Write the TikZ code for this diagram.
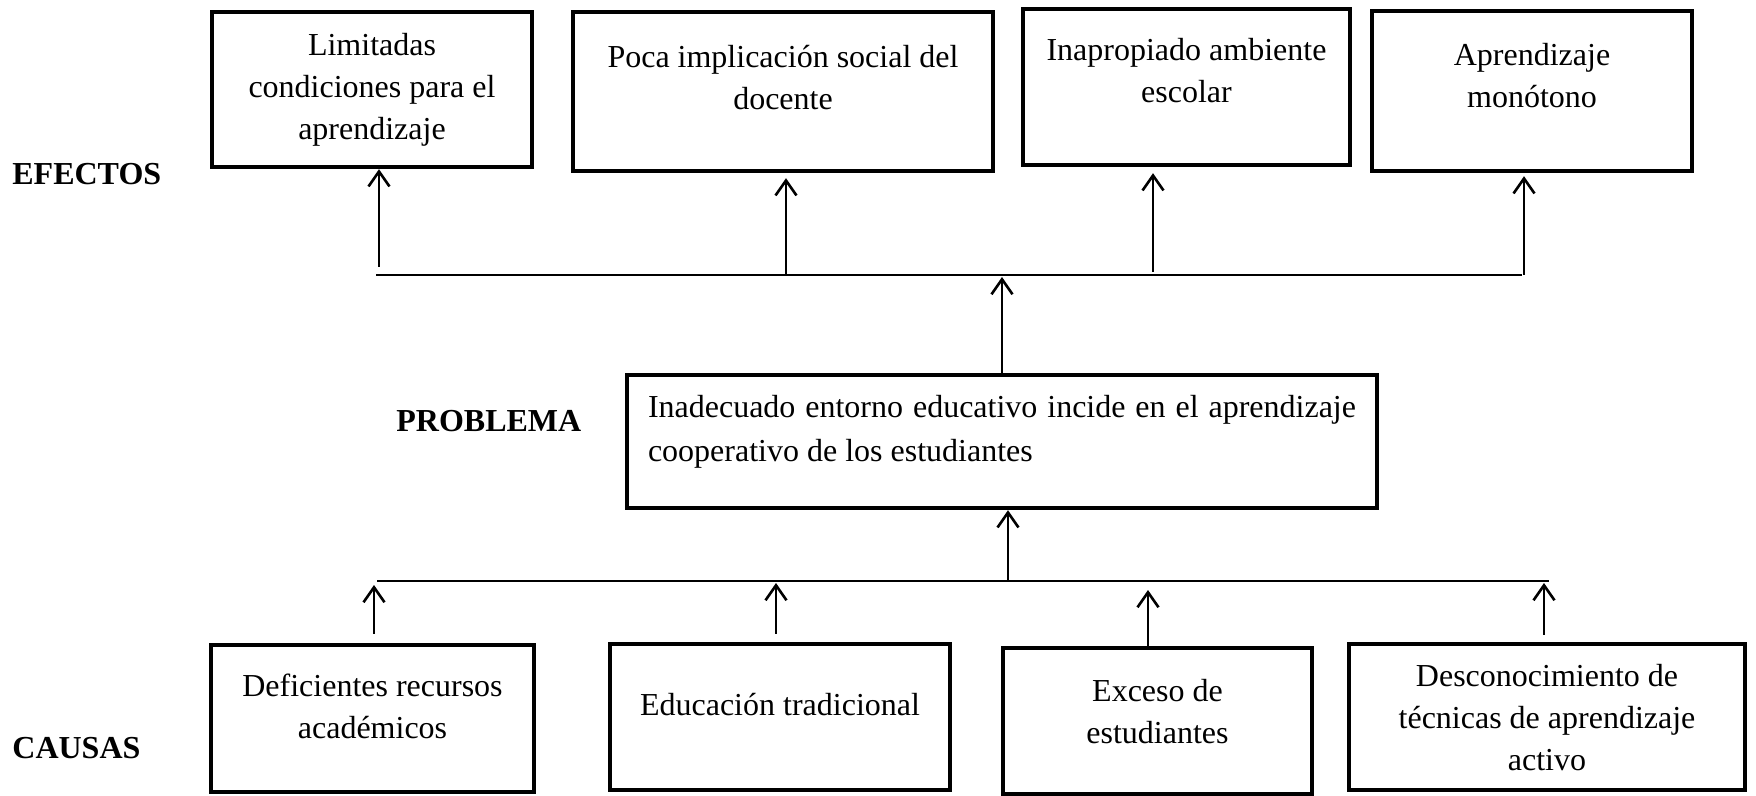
\documentclass[tikz,border=0pt]{standalone}
\usepackage{fontspec}
\setmainfont{Liberation Serif}
\usetikzlibrary{arrows.meta}
\newcommand{\mybox}[4]{\parbox[c][#2][t]{#1}{\centering\rule{0pt}{#3}#4\par}}
\begin{document}
\begin{tikzpicture}[x=0.5pt,y=-0.5pt,
  box/.style={draw, line width=2.2pt, inner sep=0pt, font=\fontsize{16}{21}\selectfont},
  lab/.style={inner sep=0pt, font=\fontsize{16}{21}\selectfont\bfseries, anchor=base west},
  ln/.style={line width=1.3pt},
  arr/.style={line width=1.3pt, -{Straight Barb[length=7.5pt,width=10.5pt]}}]
\useasboundingbox (0,0) rectangle (1756,796);

% labels
\node[lab] (ef) at (12,185) {EFECTOS};
\node[lab] (pr) at (396,432) {PROBLEMA};
\node[lab] (ca) at (12,758) {CAUSAS};

% effect boxes
\node[box] (e1) at (372,89.5) {\mybox{160pt}{77.5pt}{22pt}{Limitadas\\condiciones para el\\aprendizaje}};
\node[box] (e2) at (783,91.5) {\mybox{210pt}{79.5pt}{28pt}{Poca implicación social del\\docente}};
\node[box] (e3) at (1186.5,87) {\mybox{163.5pt}{78pt}{26pt}{Inapropiado ambiente\\escolar}};
\node[box] (e4) at (1532,91) {\mybox{160pt}{80pt}{27.5pt}{Aprendizaje\\monótono}};

% problem box
\node[box] (p) at (1002,441.5) {\parbox[c][66.5pt][t]{375pt}{\leftskip=10.5pt\rightskip=10.5pt\fontsize{16}{22}\selectfont\rule{0pt}{21.5pt}Inadecuado entorno educativo incide en el aprendizaje\linebreak cooperativo de los estudiantes\par}};

% cause boxes
\node[box] (c1) at (372.5,718.5) {\mybox{161.5pt}{73.5pt}{25.5pt}{Deficientes recursos\\académicos}};
\node[box] (c2) at (780,717) {\mybox{170pt}{73pt}{35.5pt}{Educación tradicional}};
\node[box] (c3) at (1157.5,721) {\mybox{154.5pt}{73pt}{26.5pt}{Exceso de\\estudiantes}};
\node[box] (c4) at (1547,717) {\mybox{198pt}{73pt}{21pt}{Desconocimiento de\\técnicas de aprendizaje\\activo}};

% effects bus
\coordinate (eL) at (376,275);
\coordinate (eR) at (1522,275);
\draw[ln] (eL) -- (eR);
\coordinate (a1) at (379,267);
\coordinate (a2) at (786,275);
\coordinate (a3) at (1153,272);
\coordinate (a4) at (1524,275);
\draw[arr] (a1) -- (a1 |- e1.south);
\draw[arr, shorten >=2.5pt] (a2) -- (a2 |- e2.south);
\draw[arr, shorten >=3pt] (a3) -- (a3 |- e3.south);
\draw[arr, shorten >=1.5pt] (a4) -- (a4 |- e4.south);
\coordinate (pe) at (1002,277);
\draw[arr] (p.north) -- (pe);

% causes bus
\coordinate (cL) at (377,581);
\coordinate (cR) at (1549,581);
\draw[ln] (cL) -- (cR);
\coordinate (k1) at (374,585);
\coordinate (k2) at (776,583);
\coordinate (k3) at (1148,590);
\coordinate (k4) at (1544,583);
\draw[arr, shorten <=4.5pt] (k1 |- c1.north) -- (k1);
\draw[arr, shorten <=4pt] (k2 |- c2.north) -- (k2);
\draw[arr] (k3 |- c3.north) -- (k3);
\draw[arr, shorten <=3.5pt] (k4 |- c4.north) -- (k4);
\coordinate (pc) at (1008,581);
\draw[arr] (pc) -- (pc |- p.south);
\end{tikzpicture}
\end{document}
